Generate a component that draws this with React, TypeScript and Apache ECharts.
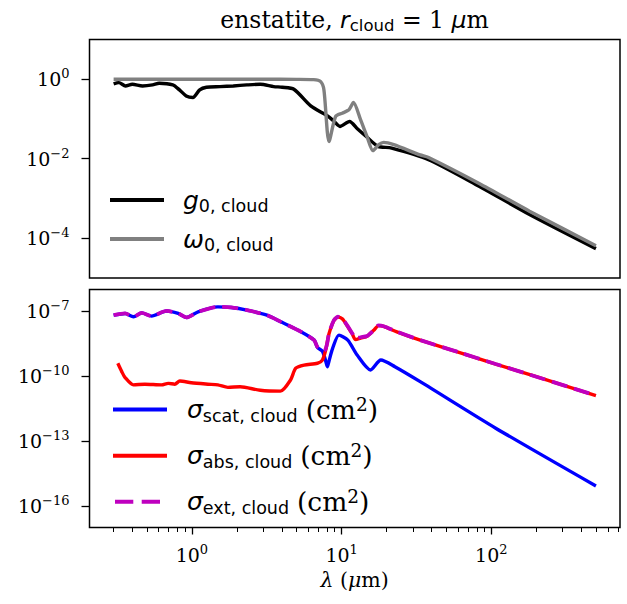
import React, { useEffect, useRef } from "react";
import * as echarts from "echarts";

// ---------- data ----------
const lambdaG = [0.30, 0.325, 0.36, 0.40, 0.468, 0.546, 0.605, 0.745, 0.826, 0.916, 1.016, 1.127, 1.25, 1.54, 1.89, 2.33, 2.86, 3.52, 4.01, 4.80, 6.22, 8.05, 8.93, 9.75, 11.3, 12.8, 15.0, 17.5, 21.6, 38.1, 82.8, 180, 500];
const g0 = [0.762, 0.824, 0.679, 0.748, 0.679, 0.72, 0.793, 0.72, 0.54, 0.381, 0.347, 0.54, 0.63, 0.653, 0.679, 0.72, 0.748, 0.653, 0.63, 0.561, 0.214, 0.12, 0.0867, 0.065, 0.0867, 0.0557, 0.0332, 0.0205, 0.0186, 0.0095, 0.00204, 0.000397, 5.48e-5];

const lambdaW = [0.30, 1.0, 3.0, 5.0, 6.5, 7.25, 7.62, 8.24, 9.12, 10.1, 11.2, 12.0, 13.4, 14.8, 16.2, 17.7, 19.1, 22.3, 33.5, 38.1, 83, 180, 500];
const w0 = [1.0, 1.0, 1.0, 0.995, 0.98, 0.87, 0.54, 0.027, 0.116, 0.14, 0.17, 0.26, 0.095, 0.036, 0.016, 0.0226, 0.0258, 0.0226, 0.0125, 0.0108, 0.0024, 0.00048, 6.5e-5];

const lambdaScat = [0.30, 0.358, 0.407, 0.462, 0.538, 0.677, 0.81, 0.92, 1.10, 1.49, 1.83, 2.33, 3.17, 3.93, 5.34, 6.55, 6.9, 7.45, 7.83, 8.03, 8.24, 8.71, 9.6, 11.0, 12.7, 15.6, 18.3, 22.7, 33.5, 107, 500];
const sigmaScat = [6.5e-8, 7.8e-8, 5.5e-8, 8.3e-8, 5.9e-8, 1.02e-7, 7.8e-8, 5.1e-8, 9.3e-8, 1.58e-7, 1.48e-7, 1.12e-7, 6.5e-8, 3.2e-8, 1.12e-8, 4.6e-9, 2.1e-9, 1.4e-9, 5e-10, 2.7e-10, 5e-10, 1.9e-9, 7.8e-9, 4.6e-9, 9.3e-10, 1.9e-10, 5.5e-10, 2.7e-10, 5.5e-11, 3.9e-13, 8.3e-16];

const lambdaAbs = [0.32, 0.34, 0.357, 0.407, 0.485, 0.627, 0.695, 0.769, 0.83, 0.99, 1.28, 1.49, 1.74, 2.10, 2.86, 3.90, 4.56, 4.94, 5.62, 6.90, 7.44, 7.83, 8.24, 8.89, 9.45, 10.1, 10.9, 11.8, 12.4, 13.4, 14.8, 16.4, 17.7, 19.1, 23.4, 33.5, 60, 107, 200, 500];
const sigmaAbs = [3.9e-10, 1.6e-10, 8.7e-11, 3.9e-11, 4.2e-11, 3.9e-11, 4.6e-11, 4.2e-11, 5.9e-11, 4.9e-11, 4.2e-11, 3.9e-11, 3.0e-11, 3.2e-11, 2.2e-11, 2.0e-11, 6.6e-11, 2.3e-10, 3.2e-10, 3.9e-10, 5.5e-10, 1.6e-9, 9.0e-9, 3.7e-8, 5.3e-8, 4.4e-8, 2.1e-8, 8.6e-9, 4.8e-9, 5.7e-9, 6.9e-9, 1.3e-8, 2.15e-8, 1.97e-8, 1.1e-8, 4.55e-9, 1.28e-9, 3.6e-10, 9.3e-11, 1.26e-11];

const lambdaExt = [0.30, 0.358, 0.407, 0.462, 0.538, 0.677, 0.81, 0.92, 1.10, 1.49, 1.83, 2.33, 3.17, 3.93, 5.34, 6.55, 6.9, 7.44, 7.63, 7.83, 8.03, 8.24, 8.89, 9.45, 10.1, 10.9, 11.8, 12.4, 13.4, 14.8, 16.4, 17.7, 19.1, 23.4, 33.5, 60, 107, 200, 500];
const sigmaExt = [6.5e-8, 7.8e-8, 5.5e-8, 8.3e-8, 5.9e-8, 1.02e-7, 7.8e-8, 5.1e-8, 9.3e-8, 1.58e-7, 1.48e-7, 1.12e-7, 6.5e-8, 3.2e-8, 1.12e-8, 4.6e-9, 2.2e-9, 1.6e-9, 1.45e-9, 1.8e-9, 3.5e-9, 9.3e-9, 3.8e-8, 5.5e-8, 4.6e-8, 2.2e-8, 9.3e-9, 5.5e-9, 6.2e-9, 7.1e-9, 1.32e-8, 2.2e-8, 2.0e-8, 1.12e-8, 4.6e-9, 1.29e-9, 3.6e-10, 9.3e-11, 1.26e-11];

const xMajorTicks = [1, 10, 100];
const xMinorTicks = [0.3, 0.4, 0.5, 0.6, 0.7, 0.8, 0.9, 2, 3, 4, 5, 6, 7, 8, 9, 20, 30, 40, 50, 60, 70, 80, 90, 200, 300, 400, 500, 600, 700];
const yTopTicks = [1e-4, 1e-2, 1];
const yBottomTicks = [1e-16, 1e-13, 1e-10, 1e-7];

// ---------- styling ----------
const SERIF = "DejaVu Serif";
const SANS = "DejaVu Sans";
const X_MIN = 0.207;
const X_MAX = 724;

const pairs = (xs: number[], ys: number[]) => xs.map((x, i) => [x, ys[i]]);

const powLabel = (v: number) => {
  const e = Math.round(Math.log10(v));
  return `10{sup|${e < 0 ? "\u2212" + -e : e}}`;
};

const tickLabel = (values: number[], margin: number) => ({
  customValues: values,
  formatter: powLabel,
  fontFamily: SERIF,
  fontSize: 19,
  lineHeight: 24,
  color: "#000",
  margin,
  rich: {
    sup: { fontFamily: SERIF, fontSize: 13, lineHeight: 13, verticalAlign: "top", color: "#000" },
  },
});

const mathRich = {
  it: { fontFamily: SANS, fontStyle: "italic", fontSize: 25, lineHeight: 30, fill: "#000" },
  sub: { fontFamily: SANS, fontSize: 17.5, lineHeight: 17, verticalAlign: "bottom", fill: "#000" },
  sp: { fontFamily: SERIF, fontSize: 25, lineHeight: 30, fill: "#000" },
  rm: { fontFamily: SERIF, fontSize: 26.5, lineHeight: 30, fill: "#000" },
  sup: { fontFamily: SERIF, fontSize: 18.5, lineHeight: 18, verticalAlign: "top", fill: "#000" },
};

export default function App() {
  const ref = useRef<HTMLDivElement>(null);
  useEffect(() => {
    if (!ref.current) return;
    const chart = echarts.init(ref.current, undefined, { renderer: "svg" });
    const line = (name: string, data: number[][], color: string, gi: number, extra: any = {}) => ({
      name,
      type: "line",
      xAxisIndex: gi === 0 ? 0 : 1,
      yAxisIndex: gi,
      data,
      showSymbol: false,
      symbol: "none",
      smooth: 0.25,
      lineStyle: { color, width: 3.4, ...extra },
      itemStyle: { color },
      z: 2,
    });
    const legendLine = (y: number, color: string, dash: number[] | undefined, x1: number, x2: number) => ({
      type: "line",
      shape: { x1, y1: y, x2, y2: y },
      style: { stroke: color, lineWidth: 4, lineDash: dash },
    });
    const legendText = (x: number, y: number, text: string) => ({
      type: "text",
      x,
      y,
      style: { text, rich: mathRich, align: "left", verticalAlign: "middle", fill: "#000", fontFamily: SERIF, fontSize: 25, lineHeight: 30 },
    });
    chart.setOption({
      animation: false,
      backgroundColor: "#fff",
      grid: [
        { left: 89.5, top: 39.5, width: 530.5, height: 238.5, show: true, borderColor: "#000", borderWidth: 1.5, backgroundColor: "transparent", outerBoundsMode: "none" },
        { left: 89.5, top: 289.5, width: 530.5, height: 238, show: true, borderColor: "#000", borderWidth: 1.5, backgroundColor: "transparent", outerBoundsMode: "none" },
      ],
      xAxis: [
        { type: "log", logBase: 10, gridIndex: 0, min: X_MIN, max: X_MAX, axisLine: { show: false }, axisTick: { show: false }, axisLabel: { show: false }, splitLine: { show: false } },
        {
          type: "log", logBase: 10, gridIndex: 1, position: "bottom", min: X_MIN, max: X_MAX,
          axisLine: { show: false },
          axisTick: { show: true, customValues: xMajorTicks, length: 7, lineStyle: { color: "#000", width: 1.3 } },
          axisLabel: tickLabel(xMajorTicks, 15),
          splitLine: { show: false },
        },
        {
          type: "log", logBase: 10, gridIndex: 1, position: "bottom", min: X_MIN, max: X_MAX,
          axisLine: { show: false },
          axisTick: { show: true, customValues: xMinorTicks, length: 4.5, lineStyle: { color: "#000", width: 1 } },
          axisLabel: { show: false },
          splitLine: { show: false },
        },
      ],
      yAxis: [
        {
          type: "log", logBase: 10, gridIndex: 0, min: 1e-5, max: 10,
          axisLine: { show: false },
          axisTick: { show: true, customValues: yTopTicks, length: 8, lineStyle: { color: "#000", width: 1.3 } },
          axisLabel: tickLabel(yTopTicks, 20),
          splitLine: { show: false },
        },
        {
          type: "log", logBase: 10, gridIndex: 1, min: 1e-17, max: 1e-6,
          axisLine: { show: false },
          axisTick: { show: true, customValues: yBottomTicks, length: 8, lineStyle: { color: "#000", width: 1.3 } },
          axisLabel: tickLabel(yBottomTicks, 20),
          splitLine: { show: false },
        },
      ],
      series: [
        line("g0", pairs(lambdaG, g0), "#000000", 0),
        line("w0", pairs(lambdaW, w0), "#808080", 0),
        line("scat", pairs(lambdaScat, sigmaScat), "#0000ff", 1),
        line("abs", pairs(lambdaAbs, sigmaAbs), "#ff0000", 1),
        line("ext", pairs(lambdaExt, sigmaExt), "#bf00bf", 1, { type: [16, 7], width: 3.8 }),
      ],
      graphic: [
        {
          type: "text", x: 354.5, y: 20,
          style: {
            text: "enstatite, {it|r}{sub|cloud} = 1 {it|\u03bc}m",
            align: "center", verticalAlign: "middle", fill: "#000",
            fontFamily: SERIF, fontSize: 23.5, lineHeight: 28,
            rich: {
              it: { fontFamily: SANS, fontStyle: "italic", fontSize: 23.5, lineHeight: 28, fill: "#000" },
              sub: { fontFamily: SANS, fontSize: 16.5, lineHeight: 16, verticalAlign: "bottom", fill: "#000" },
            },
          },
        },
        {
          type: "text", x: 354.5, y: 580,
          style: {
            text: "{it|\u03bb} ({it|\u03bc}m)",
            align: "center", verticalAlign: "middle", fill: "#000",
            fontFamily: SERIF, fontSize: 20.5, lineHeight: 24,
            rich: { it: { fontFamily: SERIF, fontStyle: "italic", fontSize: 20.5, lineHeight: 24, fill: "#000" } },
          },
        },
        legendLine(200, "#000000", undefined, 110, 164),
        legendText(183, 200, "{it|g}{sub|0, cloud}"),
        legendLine(239, "#808080", undefined, 110, 164),
        legendText(183, 239, "{it|\u03c9}{sub|0, cloud}"),
        legendLine(409.5, "#0000ff", undefined, 113, 167),
        legendText(187, 409.5, "{it|\u03c3}{sub|scat, cloud}{sp| }{rm|(cm}{sup|2}{rm|)}"),
        legendLine(455.7, "#ff0000", undefined, 113, 167),
        legendText(187, 455.7, "{it|\u03c3}{sub|abs, cloud}{sp| }{rm|(cm}{sup|2}{rm|)}"),
        legendLine(501.7, "#bf00bf", [18.3, 8.4], 115, 160),
        legendText(187, 501.7, "{it|\u03c3}{sub|ext, cloud}{sp| }{rm|(cm}{sup|2}{rm|)}"),
      ],
    });
    return () => chart.dispose();
  }, []);
  return <div ref={ref} style={{ position: "absolute", left: 0, top: 0, width: 627, height: 604 }} />;
}
